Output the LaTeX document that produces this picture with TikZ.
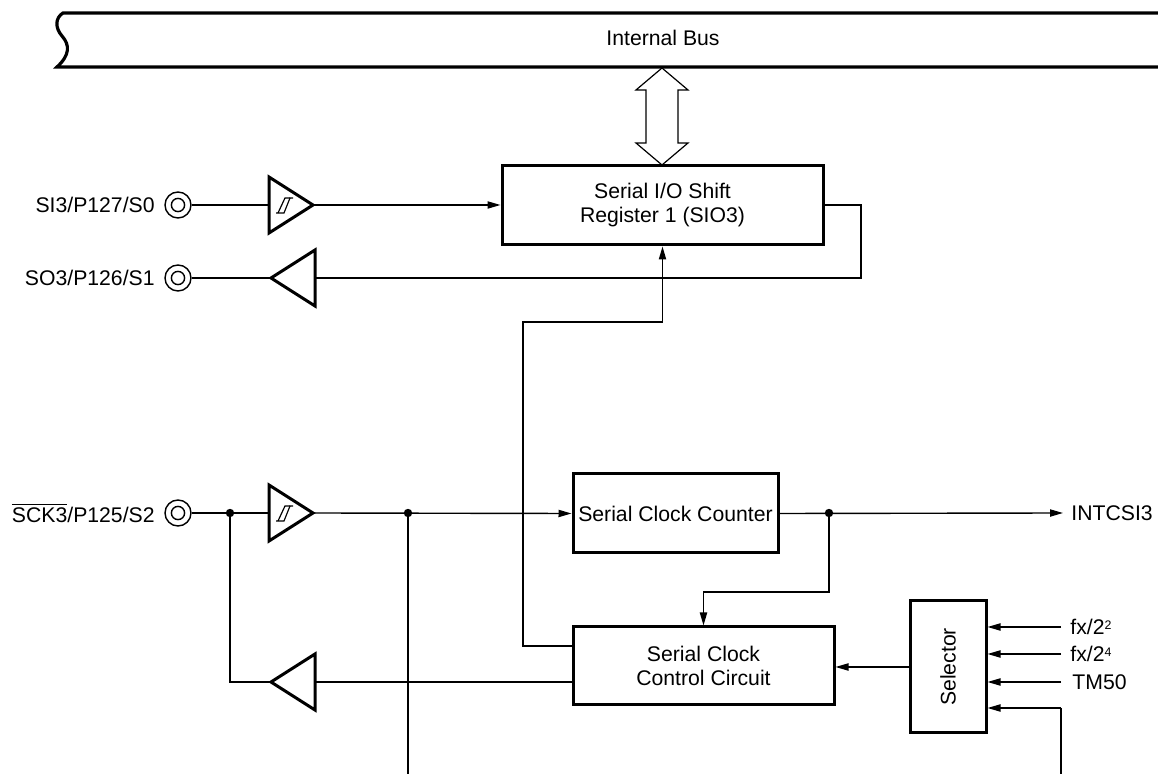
\documentclass[tikz,border=0pt]{standalone}
\usepackage{fontspec}
\setmainfont{Liberation Sans}
\usetikzlibrary{arrows.meta,calc}
\newcommand{\supdig}[1]{\raisebox{2.6pt}{\fontsize{6.2}{6.2}\selectfont #1}}
\begin{document}
\begin{tikzpicture}[x=0.5pt,y=-0.5pt,
  wire/.style={line width=0.7pt},
  arr/.style={wire,-{Triangle[length=6.5pt,width=3.6pt]}},
  blk/.style={draw,line width=1.5pt,align=center,inner sep=0pt,font=\fontsize{10.6}{12}\selectfont},
  lbl/.style={inner sep=0pt,font=\fontsize{10.6}{12}\selectfont},
  pinc/.style={circle,draw,line width=0.7pt,minimum size=13pt,inner sep=0pt},
  buf/.style={line width=1.5pt,line join=miter},
  bus/.style={line width=1.6pt},
  dot/.style={circle,fill,inner sep=0pt,minimum size=4.2pt}
]
\useasboundingbox (0,0) rectangle (1158,774);

% internal bus
\draw[bus] (1158,13) -- (63,13) .. controls (55,18) and (55,28) .. (62,36)
  .. controls (70,45) and (70,55) .. (57,67) -- (1158,67);
\node[lbl] (busl) at (663,38) {Internal Bus};

% blocks
\node[blk,minimum width=160.5pt,minimum height=39.5pt] (sio) at (662.5,205.5) {Serial I/O Shift\\Register 1 (SIO3)};
\node[blk,minimum width=102.5pt,minimum height=39.5pt] (scc) at (675.5,513.5) {Serial Clock Counter};
\node[blk,minimum width=130.5pt,minimum height=39pt] (ctrl) at (703.5,666) {Serial Clock\\Control Circuit};
\node[blk,minimum width=38pt,minimum height=66pt] (sel) at (948,667) {};
\node[lbl,rotate=90] (selt) at (sel.center) {Selector};

% double arrow between bus and SIO3
\draw[line width=0.6pt] (662,68) -- (688,90) -- (678,90) -- (678,143) -- (688,143) -- (662,165)
  -- (636,143) -- (646,143) -- (646,90) -- (636,90) -- cycle;

% pins
\node[pinc] (p1) at (178,205) {};
\node[pinc] (p2) at (178,278) {};
\node[pinc] (p3) at (178,513) {};
\foreach \p in {p1,p2,p3} \draw[line width=0.7pt] (\p.center) circle (3.3pt);
\node[lbl,anchor=east] (l1) at (155,205) {SI3/P127/S0};
\node[lbl,anchor=east] (l2) at (155,278) {SO3/P126/S1};
\node[lbl,anchor=east] (l3) at (155,513) {$\overline{\mbox{SCK3}}$/P125/S2};

% buffers
\coordinate (b1) at (269,205); \coordinate (b1o) at (313,205);
\coordinate (b2) at (315,278); \coordinate (b2o) at (271,278);
\coordinate (b3) at (269,513); \coordinate (b3o) at (313,513);
\coordinate (b4) at (315,682); \coordinate (b4o) at (271,682);
\foreach \b in {b1,b3} {
  \draw[buf] (\b) ++(0,-28) -- ++(44,28) -- ++(-44,28) -- cycle;
  \draw[line width=0.6pt] ($(\b)+(7,8)$) -- ($(\b)+(15,8)$) -- ($(\b)+(21,-7)$) -- ($(\b)+(24,-7)$);
  \draw[line width=0.6pt] ($(\b)+(9,8)$) -- ($(\b)+(16,-7)$) -- ($(\b)+(21,-7)$);
}
\foreach \b in {b2,b4} {
  \draw[buf] (\b) ++(0,-28) -- ++(-44,28) -- ++(44,28) -- cycle;
}

% SI path
\draw[wire] (p1.east) -- (b1);
\draw[arr] (b1o) -- (sio.west |- b1o);
% SO path
\coordinate (so1) at (861,205);
\coordinate (so2) at (861,278);
\draw[wire] (sio.east |- so1) -- (so1) -- (so2) -- (b2);
\draw[wire] (b2o) -- (p2.east);

% SCK path
\coordinate (d1) at (230,513);
\coordinate (d2) at (408,513);
\coordinate (d3) at (829,513);
\draw[wire] (p3.east) -- (b3);
\draw[arr] (b3o) -- (scc.west);
\draw[wire] (d1) |- (b4o);
\draw[wire] (b4) -- (b4 -| ctrl.west);
\coordinate (bot1) at (408,774);
\draw[wire] (d2) -- (bot1);

% counter output
\node[lbl,anchor=west,inner sep=4pt] (int) at (1063,513) {INTCSI3};
\draw[arr] (scc.east) -- (int.west);
\coordinate (k1) at (829,592);
\draw[arr] (d3) -- (k1) -| (ctrl.north);

% control -> SIO3 clock
\coordinate (c646) at (523,646);
\coordinate (k2) at (523,322);
\draw[arr] (ctrl.west |- c646) -- (c646) -- (k2) -| (sio.south);

% selector -> control
\draw[arr] (sel.west) -- (sel.west -| ctrl.east);

% selector inputs
\coordinate (i1) at (1061,627);
\coordinate (i2) at (1061,654);
\coordinate (i3) at (1061,682);
\coordinate (i4) at (1061,708);
\coordinate (bot2) at (1061,774);
\foreach \i in {i1,i2,i3,i4} \draw[arr] (\i) -- (\i -| sel.east);
\draw[wire] (i4) -- (bot2);
\node[lbl,anchor=west] (f1) at (1070,627) {fx/2\supdig{2}};
\node[lbl,anchor=west] (f2) at (1070,654) {fx/2\supdig{4}};
\node[lbl,anchor=west] (f3) at (1072,682) {TM50};

% junction dots
\foreach \d in {d1,d2,d3} \node[dot] at (\d) {};
\end{tikzpicture}
\end{document}
